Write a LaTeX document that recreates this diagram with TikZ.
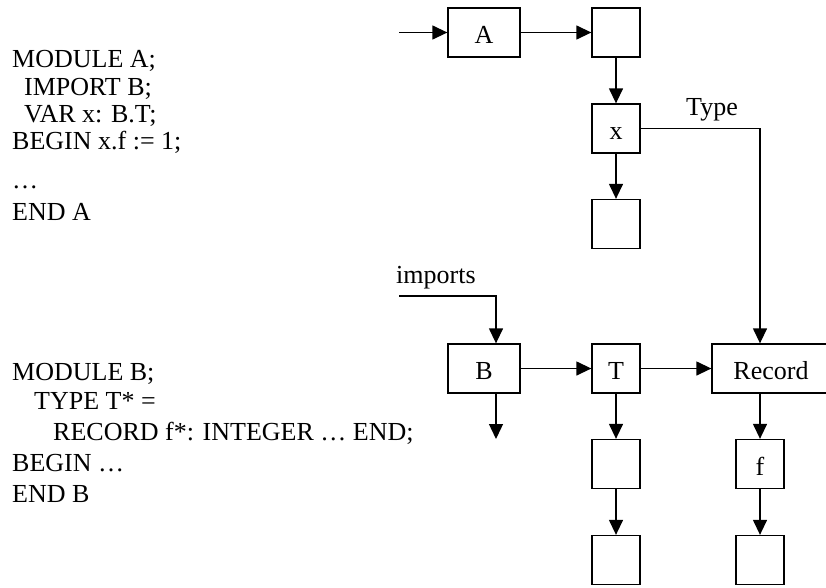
\documentclass[tikz,border=0pt]{standalone}
\usepackage{fontspec}
\setmainfont{Liberation Serif}
\usetikzlibrary{arrows.meta}
\tikzset{
  box/.style={draw, line width=1.3pt, minimum height=49pt, minimum width=48pt, inner sep=0pt,
    text height=22pt, text depth=0pt, font=\fontsize{26}{30}\selectfont},
  code/.style={anchor=base west, inner sep=0pt, font=\fontsize{26}{30}\selectfont},
  arr/.style={line width=1.3pt, -{Triangle[length=15pt,width=14pt]}},
}
\begin{document}
\begin{tikzpicture}[x=1pt,y=-1pt]
\useasboundingbox (0,0) rectangle (826,587);
\clip (0,0) rectangle (826,587);
% left code
\node[code] (a1) at (12,67) {MODULE A;};
\node[code] (a2) at (24,95) {IMPORT B;};
\node[code] (a3) at (24,122) {VAR x: B.T;};
\node[code] (a4) at (12,149) {BEGIN x.f := 1;};
\node[code] (a5) at (12,188) {…};
\node[code] (a6) at (12,220) {END A};
\node[code] (b1) at (12,380) {MODULE B;};
\node[code] (b2) at (34,409) {TYPE T* =};
\node[code] (b3) at (53,440) {RECORD f*: INTEGER … END;};
\node[code] (b4) at (12,471) {BEGIN …};
\node[code] (b5) at (12,502) {END B};
% boxes
\node[box, minimum width=72pt] (A) at (484,32.5) {A};
\node[box] (A1) at (616,32.5) {};
\node[box] (X) at (616,128.5) {x};
\node[box] (X1) at (616,224) {};
\node[box, minimum width=72pt] (B) at (484,368.5) {B};
\node[box] (T) at (616,368.5) {T};
\node[box, minimum width=118pt] (R) at (771,368.5) {Record};
\node[box] (T1) at (616,464) {};
\node[box] (T2) at (616,560) {};
\node[box] (F) at (760,464) {f};
\node[box] (F1) at (760,560) {};
% labels
\node[code] (typelbl) at (686,115) {Type};
\node[code] (implbl) at (396,283) {imports};
% connectors
\coordinate (start) at (399,32.5);
\coordinate (impstart) at (399,296);
\coordinate (impcorner) at (496,296);
\coordinate (bdown) at (496,439);
\draw[arr] (start) -- (A.west);
\draw[arr] (A.east) -- (A1.west);
\draw[arr] (A1.south) -- (X.north);
\draw[arr] (X.south) -- (X1.north);
\draw[arr] (X.east) -| (F.north |- R.north);
\draw[arr] (impstart) -- (impcorner) -- (impcorner |- B.north);
\draw[arr] (bdown |- B.south) -- (bdown);
\draw[arr] (B.east) -- (T.west);
\draw[arr] (T.east) -- (R.west);
\draw[arr] (T.south) -- (T1.north);
\draw[arr] (T1.south) -- (T2.north);
\draw[arr] (F.north |- R.south) -- (F.north);
\draw[arr] (F.south) -- (F1.north);
\end{tikzpicture}
\end{document}
